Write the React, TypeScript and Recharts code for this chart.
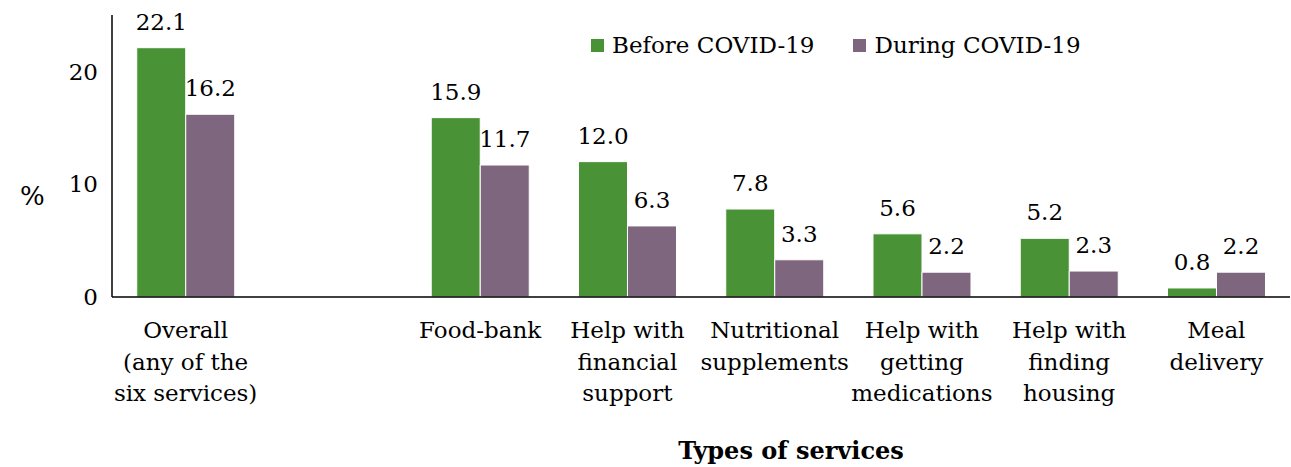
import React from "react";
import { BarChart, Bar, XAxis, YAxis, LabelList } from "recharts";

const categories = ["Overall", "", "Food-bank", "Financial", "Nutritional", "Medications", "Housing", "Meal"];
const tickLabels: Record<string, string[]> = {
  Overall: ["Overall", "(any of the", "six services)"],
  "": [],
  "Food-bank": ["Food-bank"],
  Financial: ["Help with", "financial", "support"],
  Nutritional: ["Nutritional", "supplements"],
  Medications: ["Help with", "getting", "medications"],
  Housing: ["Help with", "finding", "housing"],
  Meal: ["Meal", "delivery"],
};
const before = [22.1, null, 15.9, 12.0, 7.8, 5.6, 5.2, 0.8];
const during = [16.2, null, 11.7, 6.3, 3.3, 2.2, 2.3, 2.2];
const yTicks = [0, 10, 20];

const FONT = "'DejaVu Serif', serif";
const GREEN = "#4a9236";
const PURPLE = "#7e667e";

const data = categories.map((name, i) => ({ name, before: before[i], during: during[i] }));

const CategoryTick = ({ x, y, payload }: any) => {
  const lines = tickLabels[payload.value] || [];
  return (
    <text x={x} y={y} textAnchor="middle" fontFamily={FONT} fontSize={23} fill="#000">
      {lines.map((l, i) => (
        <tspan key={i} x={x} y={y + 33 + i * 31.5}>
          {l}
        </tspan>
      ))}
    </text>
  );
};

const fmt = (v: any) => (v == null ? "" : Number(v).toFixed(1));

export default function App() {
  return (
    <div style={{ position: "absolute", left: 0, top: 0, width: 1291, height: 467, background: "#fff" }}>
      <BarChart
        width={1291}
        height={467}
        data={data}
        margin={{ top: 15, right: 1, left: 0, bottom: 0 }}
        barGap={0}
        barCategoryGap="16.8%"
      >
        <XAxis
          dataKey="name"
          interval={0}
          tickLine={false}
          axisLine={{ stroke: "#000", strokeWidth: 1.5 }}
          tick={<CategoryTick />}
          height={170}
        />
        <YAxis
          domain={[0, 25]}
          ticks={yTicks}
          width={112}
          tickLine={false}
          tickSize={0}
          tickMargin={14}
          axisLine={{ stroke: "#000", strokeWidth: 1.5 }}
          tick={{ fontFamily: FONT, fontSize: 23, fill: "#000" }}
        />
        <Bar dataKey="before" fill={GREEN} stroke="#fff" strokeWidth={1} isAnimationActive={false}>
          <LabelList dataKey="before" position="top" offset={18} formatter={fmt} style={{ fontFamily: FONT, fontSize: 23, fill: "#000" }} />
        </Bar>
        <Bar dataKey="during" fill={PURPLE} stroke="#fff" strokeWidth={1} isAnimationActive={false}>
          <LabelList dataKey="during" position="top" offset={18} formatter={fmt} style={{ fontFamily: FONT, fontSize: 23, fill: "#000" }} />
        </Bar>
      </BarChart>
      <div style={{ position: "absolute", left: 591, top: 32, display: "flex", alignItems: "center", fontFamily: FONT, fontSize: 23, color: "#000" }}>
        <span style={{ display: "inline-block", width: 13, height: 13, background: GREEN, marginRight: 8 }} />
        <span>Before COVID-19</span>
        <span style={{ display: "inline-block", width: 13, height: 13, background: PURPLE, marginLeft: 39, marginRight: 8 }} />
        <span>During COVID-19</span>
      </div>
      <div style={{ position: "absolute", left: 20, top: 181, fontFamily: FONT, fontSize: 26, color: "#000" }}>%</div>
      <div style={{ position: "absolute", left: 0, width: 1582, top: 436, textAlign: "center", fontFamily: FONT, fontSize: 24, fontWeight: "bold", color: "#000" }}>
        Types of services
      </div>
    </div>
  );
}
